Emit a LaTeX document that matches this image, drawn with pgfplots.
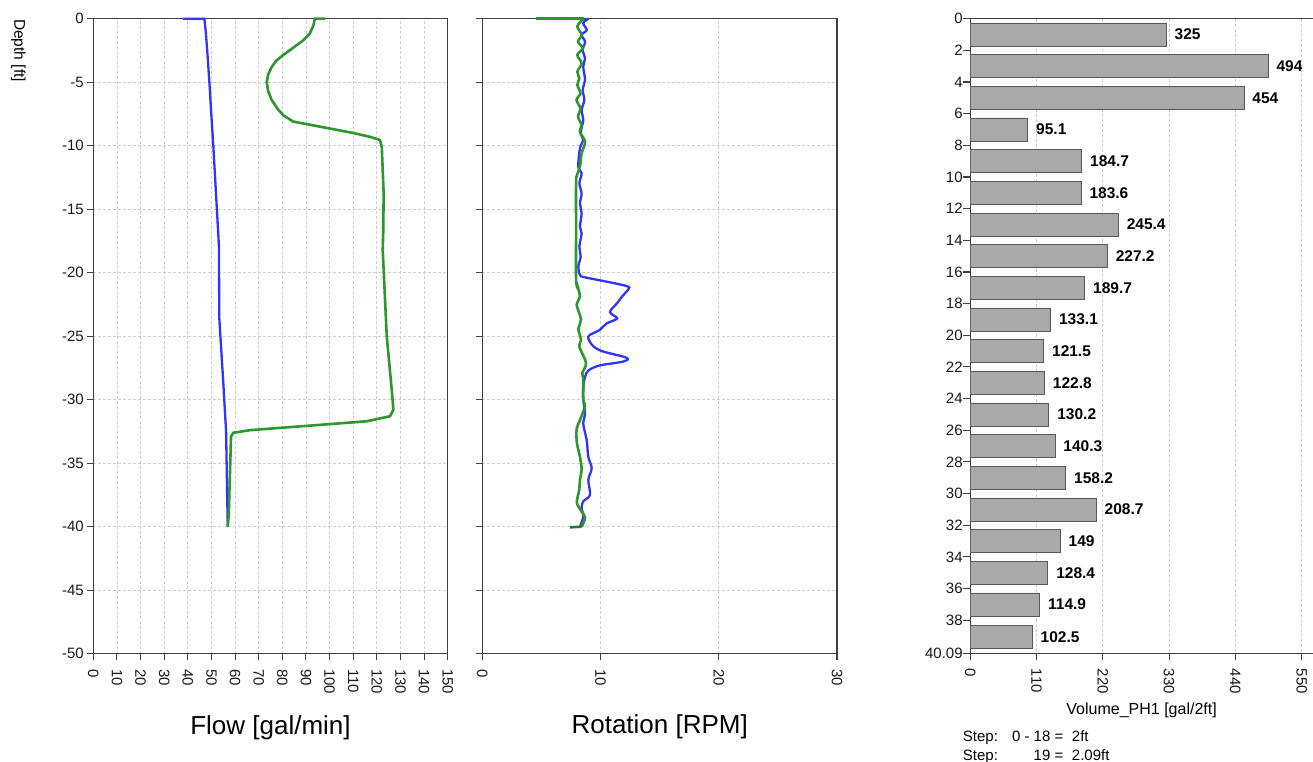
\documentclass[border=0pt]{standalone}
\usepackage{pgfplots}
\pgfplotsset{compat=1.18}
\usepackage{pgfplotstable}
\usepackage{fontspec}
\setmainfont{Liberation Sans}
\definecolor{cblue}{RGB}{51,51,255}
\definecolor{cgreen}{RGB}{45,150,45}
\definecolor{axgray}{RGB}{64,64,64}
\definecolor{gridgray}{RGB}{206,206,206}
\definecolor{barfill}{RGB}{169,169,169}

\pgfplotstableread{
v c lab
325 1 325
494 3 494
454 5 454
95.1 7 95.1
184.7 9 184.7
183.6 11 183.6
245.4 13 245.4
227.2 15 227.2
189.7 17 189.7
133.1 19 133.1
121.5 21 121.5
122.8 23 122.8
130.2 25 130.2
140.3 27 140.3
158.2 29 158.2
208.7 31 208.7
149 33 149
128.4 35 128.4
114.9 37 114.9
102.5 39.045 102.5
}\barsdata

\pgfplotsset{
  depthaxis/.style={
    scale only axis,
    /pgf/number format/assume math mode=true,
    tick label style={font=\fontsize{15bp}{18bp}\selectfont, text=black!90},
    axis line style={axgray, line width=1.3bp},
    major tick length=6bp,
    tick style={axgray, line width=1.1bp},
    tick align=outside,
    xtick pos=left, ytick pos=left,
    grid style={gridgray, dash pattern=on 3bp off 2bp, line width=0.8bp},
    xmajorgrids, ymajorgrids,
    xticklabel style={rotate=-90, anchor=west},
    xticklabel shift=6bp,
    clip=false,
  }
}

\begin{document}
\begin{tikzpicture}
\useasboundingbox (0,0) rectangle (1313bp,762bp);

% ---------- Flow panel ----------
\begin{axis}[depthaxis, at={(93.3bp,108.3bp)}, anchor=south west,
  width=354.4bp, height=635bp,
  xmin=0, xmax=150, ymin=-50, ymax=0,
  xtick={0,10,...,150}, ytick={-50,-45,...,0}]
\addplot[cblue, line width=2.3bp] coordinates {
(38,0) (47,0) (47.6,-1) (48.4,-3) (49.3,-5.5) (50.0,-7.7) (50.8,-10) (52.0,-14) (53.2,-18) (53.3,-23.5) (55.0,-28.6) (56.2,-32.5) (56.9,-40)
};
\addplot[cgreen, line width=2.6bp] coordinates {
(98.1,0) (93.8,0) (93.2,-0.5) (91.7,-1.15) (88.9,-1.7) (84.5,-2.3) (80.4,-2.86) (77.5,-3.3) (75.5,-3.8) (74.0,-4.4) (73.4,-5.0) (74.0,-5.7) (75.5,-6.4) (78,-7.1) (80.4,-7.6) (84.6,-8.1) (94.5,-8.45) (101.6,-8.7) (110,-9.0) (117.1,-9.3) (121.3,-9.55) (122.1,-10.1) (122.9,-13.75) (122.7,-16.9) (122.5,-18.2) (124.2,-25) (126.3,-29.2) (127,-30.8) (125.6,-31.3) (115.7,-31.7) (101.6,-31.9) (80.4,-32.2) (66.3,-32.4) (59.3,-32.6) (58.3,-32.9) (57.3,-39.2) (56.9,-40)
};
\end{axis}

% ---------- Rotation panel ----------
\begin{axis}[depthaxis, at={(482.3bp,108.3bp)}, anchor=south west,
  width=354.7bp, height=635bp,
  xmin=0, xmax=30, ymin=-50, ymax=0,
  xtick={0,10,20,30}, ytick={-50,-45,...,0}, yticklabel=\empty]
\addplot[cblue, line width=2.3bp] coordinates {(8.4,0) (8.97,0)};
\addplot[cblue, line width=2.3bp, smooth, tension=0.55] coordinates {
(8.97,0) (8.54,-0.36) (8.83,-0.89) (8.4,-1.28) (8.69,-1.81) (8.49,-2.46) (8.69,-3.12) (8.54,-3.78) (8.69,-4.83) (8.49,-5.61) (8.63,-6.4) (8.4,-7.19) (8.54,-7.98) (8.32,-9.02) (8.54,-9.55) (8.26,-10.2) (8.12,-11.65) (8.4,-12.17) (8.21,-12.96) (8.4,-13.75) (8.26,-14.54) (8.4,-15.32) (8.26,-16.38) (8.4,-16.9) (8.21,-17.95) (8.32,-18.74) (8.12,-19.53) (8.26,-20.18) (8.6,-20.35) (9.95,-20.6) (12.2,-21.05) (12.35,-21.3) (11.8,-21.9) (11.4,-22.4) (10.8,-23.1) (11.4,-23.6) (10.5,-24.0) (9.95,-24.5) (9.1,-24.9) (8.97,-25.2) (9.4,-25.8) (10.2,-26.2) (12.2,-26.7) (11.9,-27.0) (9.95,-27.3) (8.97,-27.7) (8.7,-28.2) (8.54,-29.0) (8.54,-30.0) (8.69,-31.1) (8.54,-31.9) (8.83,-33.2) (8.97,-34.5) (9.25,-35.4) (8.97,-36.3) (9.11,-37.5) (8.54,-38.0) (8.4,-38.5) (8.54,-39.2) (8.26,-40)
};
\addplot[cgreen, line width=2.6bp] coordinates {(4.5,0) (8.6,0)};
\addplot[cgreen, line width=2.6bp, smooth, tension=0.55] coordinates {
(8.6,0) (8.4,-0.15) (8.04,-0.63) (8.4,-1.28) (8.1,-1.81) (8.5,-2.33) (8.04,-2.86) (8.4,-3.51) (8.04,-4.17) (8.2,-4.7) (8.04,-5.22) (8.3,-5.87) (7.97,-6.4) (8.3,-7.06) (8.1,-7.72) (8.4,-8.37) (8.25,-8.9) (8.69,-9.69) (8.4,-10.6) (8.25,-11.65) (7.97,-12.44) (7.93,-13.0) (7.93,-16.5) (7.93,-20.5) (7.98,-20.8) (8.26,-21.9) (7.98,-22.5) (8.35,-23.7) (8.12,-24.4) (8.35,-25.3) (8.2,-25.8) (8.77,-27.1) (8.46,-27.9) (8.54,-28.4) (8.54,-30.0) (8.69,-30.5) (8.26,-31.6) (7.98,-32.3) (8.0,-33.4) (8.26,-34.5) (8.4,-35.5) (8.26,-36.3) (8.2,-37.1) (8.0,-38.1) (8.4,-38.8) (8.69,-39.3) (8.4,-40)
};
\addplot[cgreen!80!black, line width=2.6bp] coordinates {(8.4,-40) (7.42,-40.05)};
\end{axis}

% ---------- Volume panel ----------
\begin{axis}[scale only axis, at={(970.3bp,108.7bp)}, anchor=south west,
  width=342.7bp, height=634.6bp,
  xmin=0, xmax=568.8, ymin=0, ymax=40.09, y dir=reverse,
  xbar, bar width=1.46,
  axis x line=box, axis y line=left,
  axis line style={axgray, line width=1.3bp, -},
  /pgf/number format/assume math mode=true,
  tick label style={font=\fontsize{15bp}{18bp}\selectfont, text=black!90},
  major tick length=7bp,
  tick style={axgray, line width=1.1bp},
  tick align=outside,
  xtick pos=left, ytick pos=left,
  xtick={0,110,220,330,440,550},
  ytick={0,2,4,6,8,10,12,14,16,18,20,22,24,26,28,30,32,34,36,38,40.09},
  yticklabels={0,2,4,6,8,10,12,14,16,18,20,22,24,26,28,30,32,34,36,38,40.09},
  xticklabel style={rotate=-90, anchor=west},
  xticklabel shift=5bp,
  yticklabel style={inner sep=0.5bp},
  xmajorgrids, ymajorgrids=false,
  grid style={gridgray, dash pattern=on 3bp off 2bp, line width=0.8bp},
  nodes near coords, point meta=explicit symbolic,
  every node near coord/.append style={font=\bfseries\fontsize{15.5bp}{18bp}\selectfont, text=black, anchor=west, xshift=5bp},
  ]
\addplot[fill=barfill, draw=black!65, line width=0.6bp] table[x=v, y=c, meta=lab] {\barsdata};
\end{axis}

% ---------- labels ----------
\node[rotate=-90, anchor=west, inner sep=0pt, font=\fontsize{15.5bp}{18bp}\selectfont] at (18.3bp,743bp) {Depth [ft]};
\node[anchor=base, inner sep=0pt, font=\fontsize{26bp}{30bp}\selectfont] at (270.5bp,27.7bp) {Flow [gal/min]};
\node[anchor=base, inner sep=0pt, font=\fontsize{26bp}{30bp}\selectfont] at (659.7bp,28.2bp) {Rotation [RPM]};
\node[anchor=base, inner sep=0pt, font=\fontsize{16bp}{19bp}\selectfont] at (1141.6bp,47bp) {Volume\_PH1 [gal/2ft]};
\node[anchor=base west, inner sep=0pt, font=\fontsize{15bp}{18bp}\selectfont] at (962.7bp,20.3bp) {Step:};
\node[anchor=base east, inner sep=0pt, font=\fontsize{15bp}{18bp}\selectfont] at (1063.5bp,20.3bp) {0 - 18 =};
\node[anchor=base west, inner sep=0pt, font=\fontsize{15bp}{18bp}\selectfont] at (1071.7bp,20.3bp) {2ft};
\node[anchor=base west, inner sep=0pt, font=\fontsize{15bp}{18bp}\selectfont] at (962.7bp,1.3bp) {Step:};
\node[anchor=base east, inner sep=0pt, font=\fontsize{15bp}{18bp}\selectfont] at (1063.5bp,1.3bp) {19 =};
\node[anchor=base west, inner sep=0pt, font=\fontsize{15bp}{18bp}\selectfont] at (1071.7bp,1.3bp) {2.09ft};
\end{tikzpicture}
\end{document}
